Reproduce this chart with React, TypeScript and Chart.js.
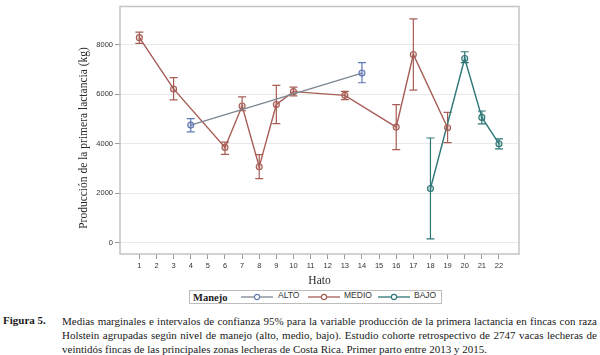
import React, { useEffect, useRef } from "react";
import { Chart, registerables } from "chart.js";

Chart.register(...registerables);

const X_TICKS = [1, 2, 3, 4, 5, 6, 7, 8, 9, 10, 11, 12, 13, 14, 15, 16, 17, 18, 19, 20, 21, 22];
const Y_TICKS = [0, 2000, 4000, 6000, 8000];

const ALTO_X = [4, 14];
const ALTO_MEAN = [4750, 6850];
const ALTO_LO = [4480, 6460];
const ALTO_HI = [5010, 7270];

const MEDIO_X = [1, 3, 6, 7, 8, 9, 10, 13, 16, 17, 19];
const MEDIO_MEAN = [8280, 6210, 3850, 5520, 3070, 5580, 6100, 5950, 4670, 7600, 4640];
const MEDIO_LO = [8050, 5770, 3570, 5330, 2590, 4810, 5930, 5780, 3760, 6160, 4040];
const MEDIO_HI = [8500, 6670, 4060, 5890, 3560, 6350, 6280, 6110, 5580, 9040, 5260];

const BAJO_X = [18, 20, 21, 22];
const BAJO_MEAN = [2190, 7440, 5060, 4000];
const BAJO_LO = [160, 7270, 4800, 3790];
const BAJO_HI = [4230, 7710, 5320, 4190];

const SERIES_NAMES = ["ALTO", "MEDIO", "BAJO"];
const LINE_COLORS = ["#7c8794", "#a65d55", "#2f7676"];
const MARKER_COLORS = ["#5f78b3", "#a65d55", "#2f7676"];

const CAPTION_LABEL = "Figura 5.";
const CAPTION_LINES = [
  "Medias marginales e intervalos de confianza 95% para la variable producción de la primera lactancia en fincas con raza",
  "Holstein agrupadas según nivel de manejo (alto, medio, bajo). Estudio cohorte retrospectivo de 2747 vacas lecheras de",
  "veintidós fincas de las principales zonas lecheras de Costa Rica. Primer parto entre 2013 y 2015.",
];

const SERIES = [
  { x: ALTO_X, mean: ALTO_MEAN, lo: ALTO_LO, hi: ALTO_HI },
  { x: MEDIO_X, mean: MEDIO_MEAN, lo: MEDIO_LO, hi: MEDIO_HI },
  { x: BAJO_X, mean: BAJO_MEAN, lo: BAJO_LO, hi: BAJO_HI },
];

function hexA(hex: string, a: number) {
  const n = parseInt(hex.slice(1), 16);
  return `rgba(${(n >> 16) & 255},${(n >> 8) & 255},${n & 255},${a})`;
}

const errorBarPlugin = {
  id: "errorBars",
  beforeDatasetsDraw(chart: any) {
    const ctx = chart.ctx;
    const xs = chart.scales.x;
    const ys = chart.scales.y;
    ctx.save();
    SERIES.forEach((s, i) => {
      ctx.strokeStyle = MARKER_COLORS[i];
      ctx.lineWidth = 1.2;
      s.x.forEach((xv, j) => {
        const px = xs.getPixelForValue(xv);
        const pl = ys.getPixelForValue(s.lo[j]);
        const ph = ys.getPixelForValue(s.hi[j]);
        ctx.beginPath();
        ctx.moveTo(px, pl);
        ctx.lineTo(px, ph);
        ctx.moveTo(px - 4, pl);
        ctx.lineTo(px + 4, pl);
        ctx.moveTo(px - 4, ph);
        ctx.lineTo(px + 4, ph);
        ctx.stroke();
      });
    });
    ctx.restore();
  },
  afterDraw(chart: any) {
    const ctx = chart.ctx;
    const a = chart.chartArea;
    ctx.save();
    ctx.strokeStyle = "#c4c4c4";
    ctx.lineWidth = 1.5;
    ctx.strokeRect(a.left, a.top, a.right - a.left, a.bottom - a.top);
    ctx.translate(84, 138);
    ctx.rotate(-Math.PI / 2);
    ctx.fillStyle = "#2a2a2a";
    ctx.font = '11.5px "Liberation Serif"';
    ctx.textAlign = "center";
    ctx.textBaseline = "middle";
    ctx.fillText("Producción de la primera lactancia (kg)", 0, 0);
    ctx.restore();
  },
};

function ChartCanvas() {
  const ref = useRef<HTMLCanvasElement | null>(null);
  useEffect(() => {
    if (!ref.current) return;
    const datasets = SERIES.map((s, i) => ({
      label: SERIES_NAMES[i],
      data: s.x.map((xv, j) => ({ x: xv, y: s.mean[j] })),
      showLine: true,
      borderColor: LINE_COLORS[i],
      borderWidth: 1.4,
      pointRadius: 3,
      pointBorderWidth: 1.1,
      pointBorderColor: MARKER_COLORS[i],
      pointBackgroundColor: hexA(MARKER_COLORS[i], 0.25),
      tension: 0,
    }));
    const chart = new Chart(ref.current, {
      type: "scatter",
      data: { datasets },
      plugins: [errorBarPlugin],
      options: {
        animation: false,
        responsive: false,
        devicePixelRatio: 1,
        layout: { padding: { left: 70, right: 81, top: 5, bottom: 0 } },
        plugins: { legend: { display: false }, tooltip: { enabled: false } },
        scales: {
          x: {
            type: "linear",
            min: -0.13,
            max: 23.17,
            afterBuildTicks: (s: any) => {
              s.ticks = X_TICKS.map((v) => ({ value: v }));
            },
            afterFit: (s: any) => {
              s.height = 36;
            },
            border: { display: false },
            grid: { drawOnChartArea: false, drawTicks: true, tickLength: 5, tickColor: "#9a9a9a" },
            ticks: {
              autoSkip: false,
              maxRotation: 0,
              padding: 2,
              color: "#333",
              font: { family: '"Liberation Sans", Arial', size: 7.5 },
              callback: (v: any) => String(v),
            },
            title: {
              display: true,
              text: "Hato",
              color: "#2a2a2a",
              font: { family: '"Liberation Serif"', size: 11.5 },
              padding: { top: 0, bottom: 2 },
            },
          },
          y: {
            type: "linear",
            min: -453,
            max: 9537,
            afterBuildTicks: (s: any) => {
              s.ticks = Y_TICKS.map((v) => ({ value: v }));
            },
            afterFit: (s: any) => {
              s.width = 50;
            },
            border: { display: false },
            grid: { color: "#e9e9e9", lineWidth: 1, drawTicks: true, tickLength: 5, tickColor: "#9a9a9a" },
            ticks: {
              padding: 2,
              color: "#333",
              font: { family: '"Liberation Sans", Arial', size: 7.5 },
              callback: (v: any) => String(v),
            },
          },
        },
      },
    } as any);
    return () => chart.destroy();
  }, []);
  return <canvas ref={ref} width={600} height={290} style={{ display: "block", position: "absolute", left: 0, top: 0 }} />;
}

function Glyph({ color, marker }: { color: string; marker: string }) {
  return (
    <svg width={32} height={10} style={{ display: "block" }}>
      <line x1={0} y1={5} x2={32} y2={5} stroke={color} strokeWidth={1.3} />
      <circle cx={16} cy={5} r={2.6} fill="#fff" stroke={marker} strokeWidth={1.1} />
    </svg>
  );
}

export default function App() {
  const legendItems = [
    { glyphX: 241, textX: 278 },
    { glyphX: 308, textX: 344 },
    { glyphX: 378, textX: 414 },
  ];
  return (
    <div style={{ position: "absolute", left: 0, top: 0, width: 600, height: 355, background: "#fff", overflow: "hidden" }}>
      <ChartCanvas />
      <div
        style={{
          position: "absolute",
          left: 189,
          top: 290,
          width: 253,
          height: 14,
          border: "1px solid #bdbdbd",
          boxSizing: "border-box",
        }}
      />
      <div
        style={{
          position: "absolute",
          left: 193,
          top: 290,
          height: 15,
          lineHeight: "15px",
          fontFamily: '"Liberation Serif", serif',
          fontWeight: "bold",
          fontSize: "10.5px",
          color: "#222",
        }}
      >
        Manejo
      </div>
      {legendItems.map((it, i) => (
        <React.Fragment key={i}>
          <div style={{ position: "absolute", left: it.glyphX, top: 292 }}>
            <Glyph color={LINE_COLORS[i]} marker={MARKER_COLORS[i]} />
          </div>
          <div
            style={{
              position: "absolute",
              left: it.textX,
              top: 290,
              height: 15,
              lineHeight: "15px",
              font: '8.5px "Liberation Sans", Arial',
              color: "#333",
            }}
          >
            {SERIES_NAMES[i]}
          </div>
        </React.Fragment>
      ))}
      <div
        style={{
          position: "absolute",
          left: 3,
          top: 314,
          lineHeight: "14px",
          font: 'bold 11px "Liberation Serif"',
          color: "#1a1a1a",
        }}
      >
        {CAPTION_LABEL}
      </div>
      <div style={{ position: "absolute", left: 62, top: 314, width: 535 }}>
        {CAPTION_LINES.map((ln, i) => (
          <div
            key={i}
            style={{
              font: '11px "Liberation Serif"',
              lineHeight: "14px",
              color: "#1a1a1a",
              whiteSpace: "nowrap",
              textAlign: i < CAPTION_LINES.length - 1 ? "justify" : "left",
              textAlignLast: i < CAPTION_LINES.length - 1 ? "justify" : "left",
            } as any}
          >
            {ln}
          </div>
        ))}
      </div>
    </div>
  );
}
